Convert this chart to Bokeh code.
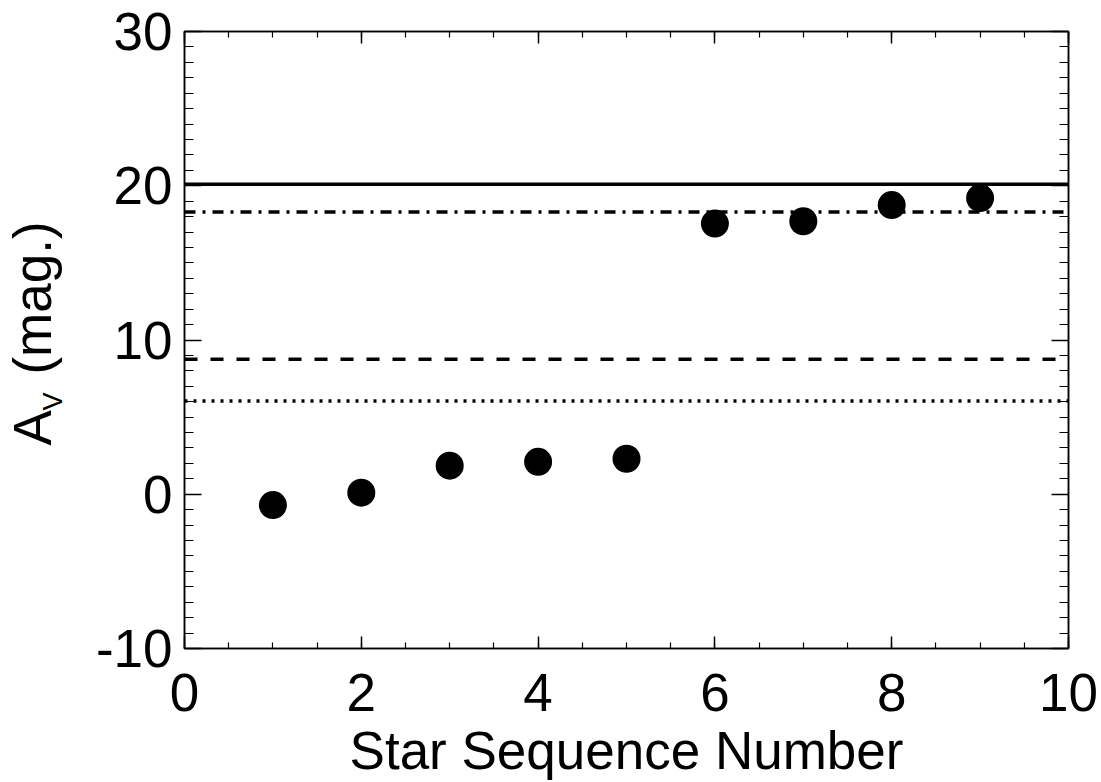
from bokeh.plotting import figure
from bokeh.models import (Span, LinearAxis, SingleIntervalTicker,
                          CustomJSTickFormatter, Range1d)
from bokeh.layouts import row
from bokeh.core.properties import value
from bokeh.embed import file_html
from bokeh.resources import INLINE
import math

# ---- data ----
star_number = [1, 2, 3, 4, 5, 6, 7, 8, 9]
av_mag = [-0.7, 0.1, 1.85, 2.1, 2.3, 17.55, 17.7, 18.75, 19.2]

ref_levels = [20.1, 18.3, 8.75, 6.05]
ref_dashes = ["solid", "11 7 3 7", "13 13", "3 6"]

x_ticks_interval = 2
y_ticks_interval = 10
x_title = "Star Sequence Number"
y_title_main = "A"
y_title_sub = "V"
y_title_rest = "(mag.)"

FONT = "Liberation Sans"
FS = "53px"

TITLE_W = 90
W, H = 1101, 782
Y_LO, Y_HI = -10, 30

p = figure(width=W - TITLE_W, height=H, output_backend="svg", toolbar_location=None,
           x_range=Range1d(0, 10), y_range=Range1d(Y_LO, Y_HI),
           min_border_left=184 - TITLE_W, min_border_right=33, min_border_top=31,
           min_border_bottom=134)
p.background_fill_color = "white"
p.border_fill_color = "white"
p.outline_line_color = "black"
p.outline_line_width = 1.5
p.xgrid.visible = False
p.ygrid.visible = False

xt = SingleIntervalTicker(interval=x_ticks_interval, num_minor_ticks=4)
yt = SingleIntervalTicker(interval=y_ticks_interval, num_minor_ticks=10)
plain_fmt = CustomJSTickFormatter(code="return tick.toFixed(0)")


def style_axis(ax, ticker, major_in, minor_in, labels=True):
    ax.ticker = ticker
    ax.major_tick_in = major_in
    ax.major_tick_out = 0
    ax.minor_tick_in = minor_in
    ax.minor_tick_out = 0
    ax.axis_line_color = "black"
    ax.axis_line_width = 1.5
    ax.major_tick_line_color = "black"
    ax.minor_tick_line_color = "black"
    ax.major_tick_line_width = 1.5
    ax.minor_tick_line_width = 1.2
    ax.major_label_text_font = FONT
    ax.major_label_text_font_size = FS
    ax.major_label_text_color = "black"
    if labels:
        ax.formatter = plain_fmt
    else:
        ax.formatter = CustomJSTickFormatter(code="return ''")
        ax.major_label_standoff = 0


xa = p.xaxis[0]
style_axis(xa, xt, 12, 6)
xa.major_label_standoff = 25
xa.axis_label = x_title
xa.axis_label_text_font = FONT
xa.axis_label_text_font_size = FS
xa.axis_label_text_font_style = "normal"
xa.axis_label_text_color = "black"
xa.axis_label_standoff = 7

ya = p.yaxis[0]
style_axis(ya, yt, 17, 9)
ya.major_label_standoff = 12

top = LinearAxis()
style_axis(top, xt, 12, 6, labels=False)
p.add_layout(top, "above")
right = LinearAxis()
style_axis(right, yt, 17, 9, labels=False)
p.add_layout(right, "right")

for lvl, dash in zip(ref_levels, ref_dashes):
    p.add_layout(Span(location=lvl, dimension="width", line_color="black",
                      line_width=3.5, line_dash=dash))

p.scatter(star_number, av_mag, size=28, color="black", line_color=None)

# ---- y-axis title (with subscript) in a narrow panel beside the plot ----
# (row() aligns this panel's frame with the main frame, so it shares the y scale)
t = figure(width=TITLE_W, height=H, output_backend="svg", toolbar_location=None,
           x_range=Range1d(0, TITLE_W), y_range=Range1d(Y_LO, Y_HI),
           x_axis_location=None, y_axis_location=None,
           min_border_left=0, min_border_right=0, min_border_top=0,
           min_border_bottom=0)
t.outline_line_color = None
t.xgrid.visible = False
t.ygrid.visible = False
t.background_fill_color = "white"
t.border_fill_color = "white"

ang = math.pi / 2
t.text(x=[31.6], y=[3.16], text=[y_title_main], angle=ang,
       text_font=value(FONT), text_font_size=FS, text_color="black",
       text_align="left", text_baseline="middle")
t.text(x=[52.6], y=[5.43], text=[y_title_sub], angle=ang,
       text_font=value(FONT), text_font_size="27px", text_color="black",
       text_align="left", text_baseline="middle")
t.text(x=[31.6], y=[7.76], text=[y_title_rest], angle=ang,
       text_font=value(FONT), text_font_size=FS, text_color="black",
       text_align="left", text_baseline="middle")

layout = row(t, p, spacing=0)
open("out.html", "w").write(file_html(layout, INLINE))
